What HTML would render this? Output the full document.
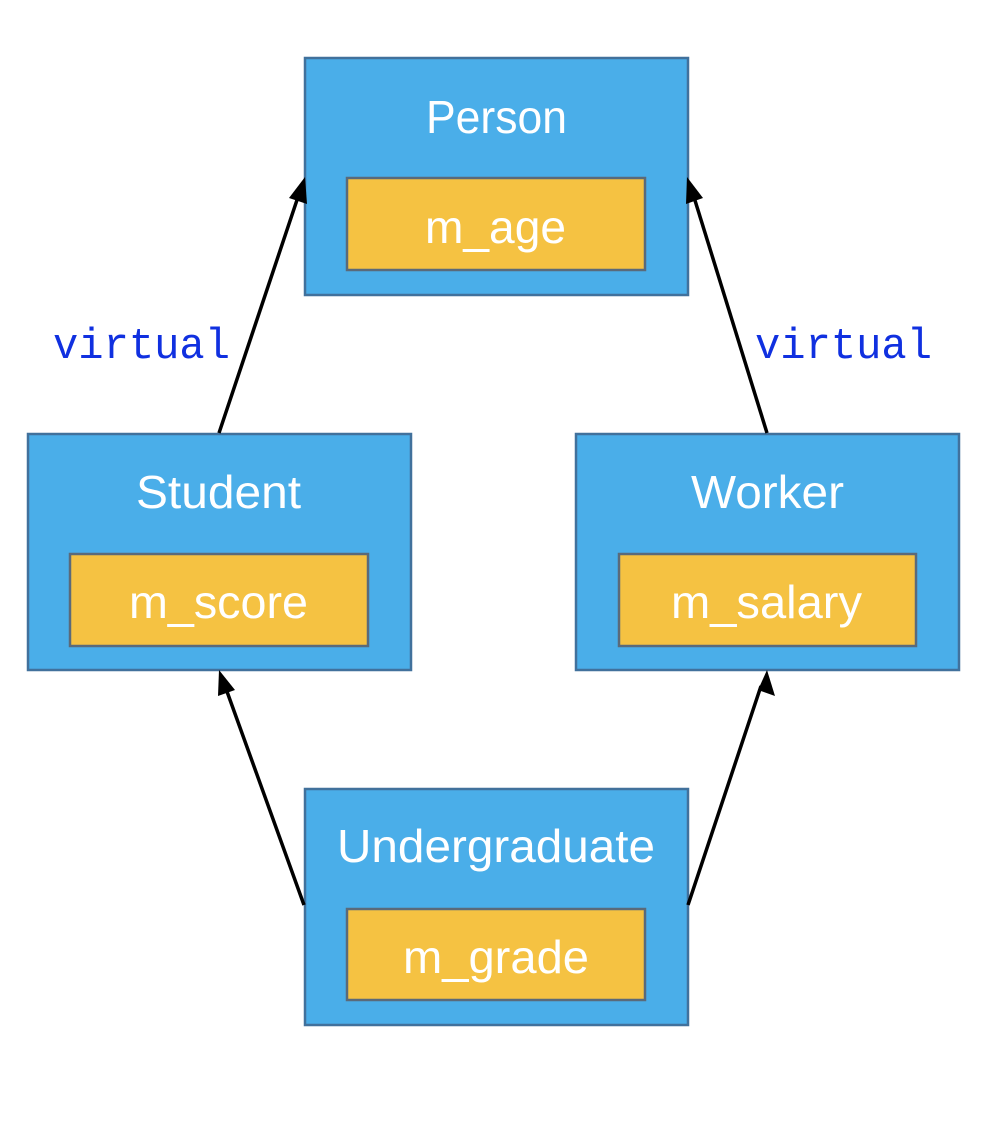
<!DOCTYPE html>
<html><head><meta charset="utf-8"><style>html,body{margin:0;padding:0;background:#fff}</style></head>
<body>
<svg width="1006" height="1120" viewBox="0 0 1006 1120" xmlns="http://www.w3.org/2000/svg">
<g stroke="#41719c" stroke-width="2.5">
<rect x="305" y="58" width="383" height="237" fill="#4aaee9"/>
<rect x="28" y="434" width="383" height="236" fill="#4aaee9"/>
<rect x="576" y="434" width="383" height="236" fill="#4aaee9"/>
<rect x="305" y="789" width="383" height="236" fill="#4aaee9"/>
</g>
<g stroke="#5a6a7a" stroke-width="2.5" fill="#f5c242">
<rect x="347" y="178" width="298" height="92"/>
<rect x="70" y="554" width="298" height="92"/>
<rect x="619" y="554" width="297" height="92"/>
<rect x="347" y="909" width="298" height="91"/>
</g>
<g font-family="Liberation Sans, sans-serif" font-size="46" fill="#fff">
<text x="426" y="133" textLength="141" lengthAdjust="spacingAndGlyphs">Person</text>
<text x="425" y="243" textLength="141" lengthAdjust="spacingAndGlyphs">m_age</text>
<text x="136" y="508" textLength="165" lengthAdjust="spacingAndGlyphs">Student</text>
<text x="129" y="618" textLength="179" lengthAdjust="spacingAndGlyphs">m_score</text>
<text x="691" y="508" textLength="153" lengthAdjust="spacingAndGlyphs">Worker</text>
<text x="671" y="618" textLength="191" lengthAdjust="spacingAndGlyphs">m_salary</text>
<text x="337" y="862" textLength="318" lengthAdjust="spacingAndGlyphs">Undergraduate</text>
<text x="403" y="973" textLength="186" lengthAdjust="spacingAndGlyphs">m_grade</text>
</g>
<g font-family="Liberation Mono, monospace" font-size="44" fill="#1030e0">
<text x="53" y="358" textLength="177" lengthAdjust="spacingAndGlyphs">virtual</text>
<text x="755" y="358" textLength="177" lengthAdjust="spacingAndGlyphs">virtual</text>
</g>
<g stroke="#000" stroke-width="3.5">
<line x1="219" y1="433" x2="299" y2="194"/>
<line x1="767" y1="433" x2="693" y2="194"/>
<line x1="304" y1="905" x2="225" y2="686"/>
<line x1="688" y1="905" x2="761" y2="686"/>
</g>
<g fill="#000">
<polygon points="305,177 307,204 289,198"/>
<polygon points="687,177 703,198 686,204"/>
<polygon points="219,670 235,690 218,696"/>
<polygon points="767,670 775,696 758,690"/>
</g>
</svg>
</body></html>
